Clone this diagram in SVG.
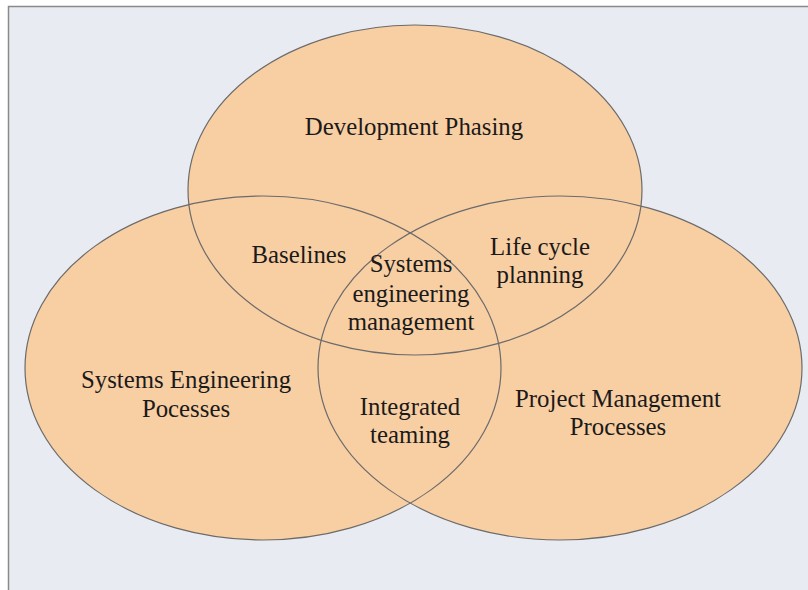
<svg xmlns="http://www.w3.org/2000/svg" width="808" height="590" viewBox="0 0 808 590">
<style>
.fill{fill:#f8cea3;stroke:none}
.edge{fill:none;stroke:#6b6b6b;stroke-width:1.2}
text{font-family:"Liberation Serif","Times New Roman",serif;font-size:24.8px;fill:#1a1a1a;text-anchor:middle}
</style>
<rect x="0" y="0" width="808" height="590" fill="#ffffff"/>
<rect x="8.5" y="6.5" width="830" height="620" fill="#e8ebf1" stroke="#8a8a8a" stroke-width="1.5"/>
<g id="fills">
<ellipse class="fill" cx="415" cy="190" rx="227" ry="165"/>
<ellipse class="fill" cx="263" cy="368" rx="238" ry="172"/>
<ellipse class="fill" cx="560" cy="368" rx="242" ry="172"/>
</g>
<g id="development-phasing">
<ellipse class="edge" cx="415" cy="190" rx="227" ry="165"/>
<text x="414" y="135">Development Phasing</text>
</g>
<g id="systems-engineering-processes">
<ellipse class="edge" cx="263" cy="368" rx="238" ry="172"/>
<text x="186" y="388">Systems Engineering</text>
<text x="186" y="417">Pocesses</text>
</g>
<g id="project-management-processes">
<ellipse class="edge" cx="560" cy="368" rx="242" ry="172"/>
<text x="618" y="407">Project Management</text>
<text x="618" y="435">Processes</text>
</g>
<g id="baselines"><text x="299" y="263">Baselines</text></g>
<g id="life-cycle-planning">
<text x="540" y="255">Life cycle</text>
<text x="540" y="283">planning</text>
</g>
<g id="systems-engineering-management">
<text x="411" y="272">Systems</text>
<text x="411" y="302">engineering</text>
<text x="411" y="330">management</text>
</g>
<g id="integrated-teaming">
<text x="410" y="415">Integrated</text>
<text x="410" y="443">teaming</text>
</g>
<g id="connectors"></g>
</svg>
